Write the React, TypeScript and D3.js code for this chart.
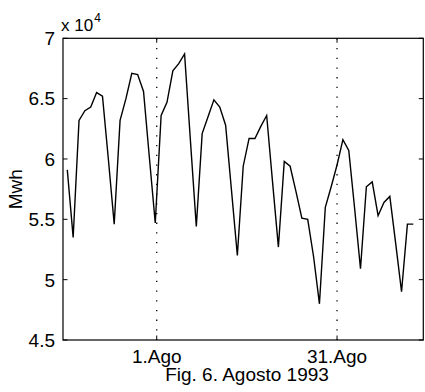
import React from "react";
import * as d3 from "d3";

const values: number[] = [
  59100, 53500, 63200, 64000, 64300, 65500, 65200, 60000, 54600, 63200,
  65000, 67100, 67000, 65600, 60100, 54700, 63600, 64700, 67300, 67900,
  68700, 61500, 54400, 62100, 63500, 64900, 64300, 62800, 57400, 52000,
  59400, 61700, 61700, 62700, 63600, 58100, 52700, 59800, 59400, 57300,
  55100, 55000, 51900, 48000, 56000, 57700, 59500, 61600, 60700, 55900,
  50900, 57700, 58100, 55300, 56400, 56900, 53000, 49000, 54600, 54600,
];
const days: number[] = values.map((_, i) => i);
const yTicks: number[] = [45000, 50000, 55000, 60000, 65000, 70000];
const yTickLabels: string[] = ["4.5", "5", "5.5", "6", "6.5", "7"];
const xTicks: number[] = [15.25, 46];
const xTickLabels: string[] = ["1.Ago", "31.Ago"];
const yLabel = "Mwh";
const caption = "Fig. 6. Agosto 1993";

const W = 425, H = 392;
const L = 63, R = 423.3, T = 38.3, B = 340;
const FONT = "'Liberation Sans', Arial, Helvetica, sans-serif";

export default function App() {
  const x = d3.scaleLinear().domain([-0.733, 60.71]).range([L, R]);
  const y = d3.scaleLinear().domain([45000, 70000]).range([B, T]);
  const line = d3
    .line<number>()
    .x((_, i) => x(days[i]))
    .y((d) => y(d));
  const tl = 4.5;
  return (
    <svg
      width={W}
      height={H}
      style={{ position: "absolute", left: 0, top: 0, background: "#fff" }}
      fontFamily={FONT}
    >
      <rect x={0} y={0} width={W} height={H} fill="#fff" />
      {xTicks.map((t, i) => (
        <line
          key={"g" + i}
          x1={x(t)}
          x2={x(t)}
          y1={T}
          y2={B}
          stroke="#000"
          strokeWidth={1.3}
          strokeDasharray="1.3 8.4"
        />
      ))}
      <path d={line(values) || ""} fill="none" stroke="#000" strokeWidth={1.4} strokeLinejoin="miter" />
      <rect x={L} y={T} width={R - L} height={B - T} fill="none" stroke="#000" strokeWidth={1.2} />
      {yTicks.map((t, i) => (
        <g key={"y" + i}>
          <line x1={L} x2={L + tl} y1={y(t)} y2={y(t)} stroke="#000" strokeWidth={1} />
          <line x1={R} x2={R - tl} y1={y(t)} y2={y(t)} stroke="#000" strokeWidth={1} />
          <text x={55} y={y(t)} dy="0.36em" textAnchor="end" fontSize={19} fill="#000">
            {yTickLabels[i]}
          </text>
        </g>
      ))}
      {xTicks.map((t, i) => (
        <g key={"x" + i}>
          <line x1={x(t)} x2={x(t)} y1={B} y2={B - tl} stroke="#000" strokeWidth={1} />
          <line x1={x(t)} x2={x(t)} y1={T} y2={T + tl} stroke="#000" strokeWidth={1} />
          <text x={x(t)} y={363} textAnchor="middle" fontSize={19} fill="#000">
            {xTickLabels[i]}
          </text>
        </g>
      ))}
      <text x={61} y={31} fontSize={17} fill="#000">
        x 10
        <tspan fontSize={12} dy={-9} dx={1}>4</tspan>
      </text>
      <text
        transform={`translate(22,${(T + B) / 2}) rotate(-90)`}
        textAnchor="middle"
        fontSize={19}
        fill="#000"
      >
        {yLabel}
      </text>
      <text x={247} y={381} textAnchor="middle" fontSize={19} fill="#000">
        {caption}
      </text>
    </svg>
  );
}
